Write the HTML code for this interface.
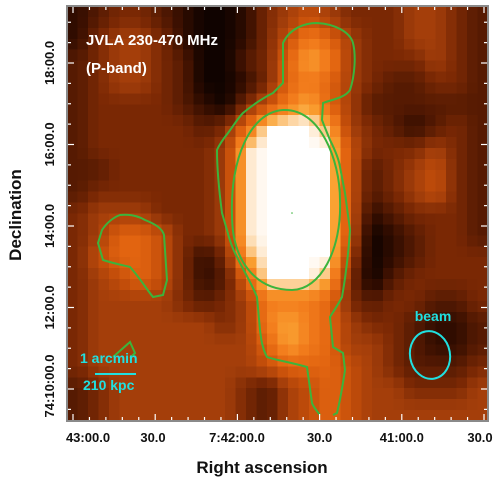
<!DOCTYPE html>
<html><head><meta charset="utf-8"><style>
html,body{margin:0;padding:0;background:#fff;}
body{width:501px;height:481px;overflow:hidden;position:relative;font-family:"Liberation Sans",sans-serif;}
svg{position:absolute;left:0;top:0;}
</style></head><body>
<svg id="chart" width="501" height="481" viewBox="0 0 501 481">
<g id="cells" shape-rendering="crispEdges"></g>
<g id="contours" fill="none" stroke="#3cb43c" stroke-width="2">
<path d="M320,415 C316,410 313,406 312,403 L307,367 C290,362 275,360 267,357 C262,348 261,338 260,330 L257,297 C250,280 242,268 237,257 C232,248 229,238 227,230 L222,213 C219,190 217,165 217,150 C220,143 224,138 228,133 C234,125 238,118 243,113 C255,103 265,97 273,93 L283,83 L283,43 C290,28 305,23 317,23 C335,24 350,32 353,43 C356,55 355,75 350,90 C345,98 330,100 323,103 L322,120 C325,128 328,135 330,140 C335,150 339,160 340,167 L345,193 L350,230 C348,260 345,280 342,297 C338,305 333,312 330,317 L333,347 C338,350 343,353 343,353 L345,370 C342,390 339,405 337,413 L333,415"/>
<path d="M283,110 C320,108 340,160 340,200 C342,250 320,290 292,290 C255,290 232,260 232,215 C230,160 250,112 283,110Z"/>
<path d="M120,215 C130,214 138,216 145,220 C155,224 162,228 164,235 L167,280 L163,295 L153,297 C147,290 140,278 130,267 C122,265 112,263 103,260 L98,243 L102,230 C106,224 112,218 120,215 Z"/>
<path d="M113,357 L130,342 L135,353 L130,358"/>
</g>
<circle cx="292" cy="213" r="0.8" fill="#3cb43c"/>
<g id="ticks" stroke="#fff" stroke-width="1.2"></g>
<rect x="67" y="6" width="421" height="415" fill="none" stroke="#8a8a8a" stroke-width="2"/>
<g font-weight="bold" font-size="15" fill="#fff">
<text x="86" y="45">JVLA 230-470 MHz</text>
<text x="86" y="73">(P-band)</text>
</g>
<g fill="#20e0e0" font-weight="bold" font-size="14">
<text x="80" y="363">1 arcmin</text>
<line x1="95" y1="374" x2="136" y2="374" stroke="#20e0e0" stroke-width="2"/>
<text x="83" y="390">210 kpc</text>
</g>
<text x="433" y="321" fill="#20e0e0" font-weight="bold" font-size="14" text-anchor="middle">beam</text>
<ellipse cx="430" cy="355" rx="20" ry="24" fill="none" stroke="#20e0e0" stroke-width="2" transform="rotate(-10 430 355)"/>
<g id="xlabels" font-weight="bold" font-size="13" fill="#111" text-anchor="middle"></g>
<g id="ylabels" font-weight="bold" font-size="13" fill="#111" text-anchor="middle"></g>
<text x="262" y="473" font-weight="bold" font-size="17" text-anchor="middle" fill="#111">Right ascension</text>
<text transform="translate(21,215) rotate(-90)" font-weight="bold" font-size="17" text-anchor="middle" fill="#111">Declination</text>
</svg>
<script>
const grid = [
[1,2,3,3,2,1,0,0,1,3,4,5,4,3,3,3,4,4,3,2],
[1,3,4,4,3,1,0,0,1,3,5,7,6,4,3,3,4,4,3,2],
[2,3,4,4,3,2,0,0,2,3,6,8,7,4,3,3,3,4,3,2],
[2,3,4,4,3,2,0,0,1,3,6,7,6,4,3,2,2,3,3,2],
[2,3,3,3,3,2,1,0,3,5,7,8,6,4,2,2,2,2,2,2],
[2,3,3,3,3,3,2,3,6,9,9,9,8,4,3,2,1,2,3,2],
[2,3,3,3,3,3,3,4,8.7,9,9,9,9,5,3,3,3,4,3,2],
[2,2,3,3,3,3,3,4,8.7,9,9,9,9,5,2,3,4,5,3,2],
[2,3,3,3,3,3,3,4,8.7,9,9,9,9,5,2,3,4,5,3,2],
[3,4,4,4,3,3,3,4,8.7,9,9,9,9,5,1,2,3,3,3,2],
[3,4,6,6,5,3,3,4,8.7,9,9,9,9,5,0,1,2,3,3,2],
[3,5,6,6,5,3,1,3,8,9,9,9,9,4,0,1,2,3,3,3],
[3,4,5,6,5,3,1,2,6,9,9,9,8,3,0,2,3,3,3,3],
[3,4,4,4,4,3,2,3,4,7,7,7,6,3,2,3,3,2,2,3],
[3,4,4,4,4,4,4,3,4,7,8,7,6,4,3,3,2,1,1,2],
[3,4,4,4,4,4,4,4,4,6,8,7,6,4,4,3,2,1,1,2],
[3,4,4,4,4,4,4,4,4,5,6,6,6,5,4,3,2,2,2,3],
[2,3,4,4,4,4,4,4,3,2,4,5,6,5,4,4,3,3,3,4],
[2,3,4,4,4,4,4,4,3,2,4,5,6,5,4,4,4,4,4,4]
];
const xTickLabels = ["43:00.0","30.0","7:42:00.0","30.0","41:00.0","30.0"];
const yTickLabels = ["18:00.0","16:00.0","14:00.0","12:00.0","74:10:00.0"];
const palette = [[16,3,0],[48,12,0],[86,26,2],[122,40,4],[164,62,10],[196,78,10],[226,100,16],[242,124,28],[250,162,50],[255,255,255]];
const NS="http://www.w3.org/2000/svg";
const X0=67,Y0=6,W=421,H=415;
const cols=grid[0].length, rows=grid.length;
const SUB=2;
const cw=W/(cols*SUB), ch=H/(rows*SUB);
const xCell=c=>X0+c*cw, yCell=r=>Y0+r*ch;
function val(fr,fc){
  fr=Math.max(0,Math.min(rows-1,fr)); fc=Math.max(0,Math.min(cols-1,fc));
  const r0=Math.floor(fr),c0=Math.floor(fc),r1=Math.min(rows-1,r0+1),c1=Math.min(cols-1,c0+1);
  const a=fr-r0,b=fc-c0;
  return grid[r0][c0]*(1-a)*(1-b)+grid[r0][c1]*(1-a)*b+grid[r1][c0]*a*(1-b)+grid[r1][c1]*a*b;
}
function color(v){
  const i=Math.max(0,Math.min(8,Math.floor(v))),t=Math.max(0,Math.min(1,v-i));
  const p=palette[i],q=palette[Math.min(9,i+1)];
  return 'rgb('+p.map((x,k)=>Math.round(x+(q[k]-x)*t)).join(',')+')';
}
const cells=document.getElementById('cells');
for(let r=0;r<rows*SUB;r++)for(let c=0;c<cols*SUB;c++){
  const v=val((r+0.5)/SUB-0.5,(c+0.5)/SUB-0.5);
  const el=document.createElementNS(NS,'rect');
  el.setAttribute('x',xCell(c));el.setAttribute('y',yCell(r));
  el.setAttribute('width',cw+0.6);el.setAttribute('height',ch+0.6);
  el.setAttribute('fill',color(v));
  
  
  cells.appendChild(el);
}
const xMajor=i=>73+i*82.2, yMajor=i=>63+i*81.5;
const ticks=document.getElementById('ticks');
function tick(x1,y1,x2,y2){const l=document.createElementNS(NS,'line');l.setAttribute('x1',x1);l.setAttribute('y1',y1);l.setAttribute('x2',x2);l.setAttribute('y2',y2);


ticks.appendChild(l);}
for(let k=0;k<=25;k++){const x=73+k*82.2/5; if(x>487)break; const L=k%5==0?6:3; tick(x,420,x,420-L); tick(x,7,x,7+L);}
for(let k=-3;k<=20;k++){const y=63+k*81.5/4; if(y<7||y>420)continue; const L=k%4==0?6:3; tick(68,y,68+L,y); tick(487,y,487-L,y);}
const xl=document.getElementById('xlabels');
const xPos=[88,153,237,322,405,480];
xTickLabels.forEach((t,i)=>{const e=document.createElementNS(NS,'text');e.setAttribute('x',Math.min(xMajor(i)+(i==0?15:0),xPos[i]));e.setAttribute('y',442);e.textContent=t;


xl.appendChild(e);});
const yl=document.getElementById('ylabels');
yTickLabels.forEach((t,i)=>{const e=document.createElementNS(NS,'text');const y=yMajor(i)+(i==4?-3:0);e.setAttribute('transform','translate(54,'+y+') rotate(-90)');e.textContent=t;


yl.appendChild(e);});
</script>
</body></html>
